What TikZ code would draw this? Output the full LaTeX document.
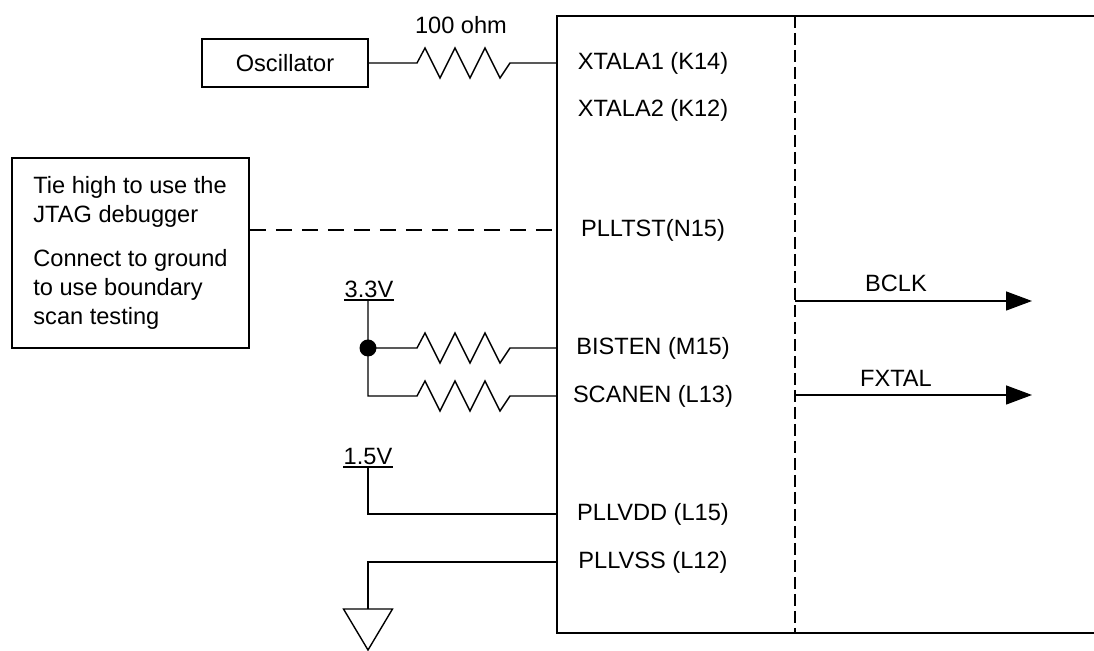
\documentclass[tikz,border=0pt]{standalone}
\usepackage{fontspec}
\setmainfont{Liberation Sans}
\usetikzlibrary{arrows.meta}

\begin{document}
\begin{tikzpicture}[x=0.5pt,y=-0.5pt,line width=0.7pt,
 every node/.style={font=\fontsize{11.8}{14.5}\selectfont},
 box/.style={draw,rectangle,line width=0.75pt},
 rail/.style={anchor=south,inner xsep=0pt,inner ysep=1pt},
 resist/.style={insert path={-- ++(8,-15) -- ++(15,30) -- ++(15,-30) -- ++(15,30) -- ++(15,-30) -- ++(15,30) -- ++(10,-15)}},
 jtag/.style={line width=1.25pt,dash pattern=on 8pt off 5pt},
 divider/.style={line width=1.25pt,dash pattern=on 6pt off 2.5pt},
 sig/.style={-{Triangle[length=13pt,width=9.5pt]}}]

\useasboundingbox (0,0) rectangle (1094,651);

% chip outline
\coordinate (tl) at (557,16);
\coordinate (tr) at (1094,16);
\coordinate (bl) at (557,633);
\coordinate (br) at (1094,633);
\draw[line width=1pt] (tr) -- (tl) -- (bl) -- (br);
\coordinate (st) at (795,16);
\coordinate (sb) at (795,633);
\draw[divider] (st) -- (sb);

% pin names
\node (xtala1) at (653,63) {XTALA1 (K14)};
\node (xtala2) at (653,110) {XTALA2 (K12)};
\node (plltst) at (653,230) {PLLTST(N15)};
\node (bisten) at (653,348) {BISTEN (M15)};
\node (scanen) at (653,396) {SCANEN (L13)};
\node (pllvdd) at (653,514) {PLLVDD (L15)};
\node (pllvss) at (653,562) {PLLVSS (L12)};

% oscillator
\node[box,minimum width=83pt,minimum height=24pt] (osc) at (285,63) {Oscillator};
\node (ohm) at (461,25) {100 ohm};
\coordinate (r1) at (417,63);
\draw (osc.east) -- (r1) [resist] -- (tl |- xtala1);

% jtag note
\node[box,align=left,minimum width=118.5pt,minimum height=95pt] (note) at (130.5,253)
 {Tie high to use the\\JTAG debugger\\[7.5pt]Connect to ground\\to use boundary\\scan testing};
\draw[jtag] (note.east |- plltst) -- (tl |- plltst);

% 3.3V pull-ups
\node[rail] (v33) at (369,300) {3.3V};
\draw (v33.south west) -- (v33.south east);
\node[circle,fill,inner sep=0pt,minimum size=8.5pt] (jn) at (368,348) {};
\coordinate (r2) at (417,348);
\coordinate (r3) at (417,396);
\draw (v33.south -| jn) -- (jn.center) -- (r2) [resist] -- (tl |- bisten);
\draw (jn.center) |- (r3) [resist] -- (tl |- scanen);

% 1.5V and ground
\node[rail] (v15) at (368,467) {1.5V};
\draw (v15.south west) -- (v15.south east);
\draw (v15.south) |- (tl |- pllvdd);
\coordinate (gnd) at (368,609);
\draw (tl |- pllvss) -| (gnd);
\draw ([xshift=-12.25pt]gnd) -- ([xshift=12.25pt]gnd) -- ([yshift=-20.5pt]gnd) -- cycle;

% outputs
\coordinate (b0) at (795,301);
\coordinate (b1) at (1032,301);
\coordinate (f0) at (795,395);
\coordinate (f1) at (1032,395);
\draw[sig] (b0) -- (b1);
\draw[sig] (f0) -- (f1);
\node (bclk) at (896,283) {BCLK};
\node (fxtal) at (896,378) {FXTAL};
\end{tikzpicture}
\end{document}
